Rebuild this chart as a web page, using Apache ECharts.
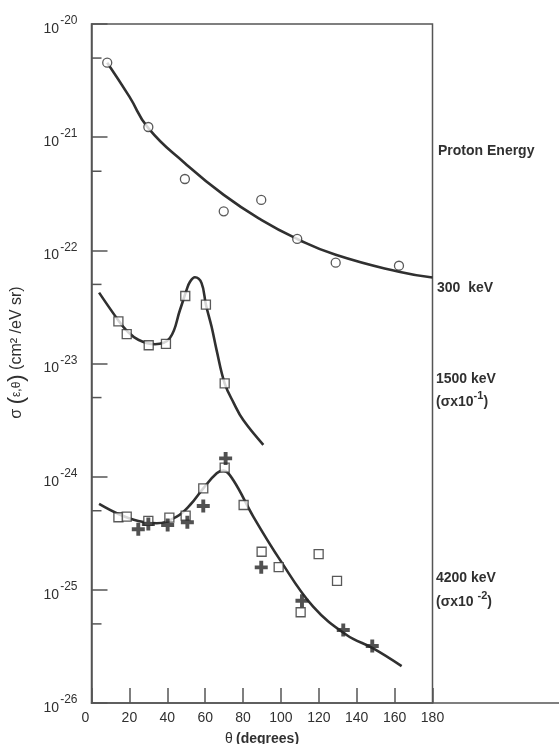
<!DOCTYPE html>
<html>
<head>
<meta charset="utf-8">
<script src="https://cdn.jsdelivr.net/npm/echarts@6/dist/echarts.min.js"></script>
<style>html,body{margin:0;padding:0;background:#fff;}#c{width:559px;height:744px;}</style>
</head>
<body>
<div id="c"></div>
<script>
// ---- Data (angle in degrees, cross section in cm^2/eV sr) ----
const xTicks = [0, 20, 40, 60, 80, 100, 120, 140, 160, 180];
const yDecadeExponents = [-26, -25, -24, -23, -22, -21, -20];
const yMinorTicks = [5e-21, 5e-22, 5e-23, 5e-24, 5e-25, 5e-26];

// 300 keV
const p300Angles = [8.3, 30, 49.3, 69.8, 89.6, 108.6, 128.9, 162.3];
const p300Values = [4.55e-21, 1.23e-21, 4.27e-22, 2.21e-22, 2.79e-22, 1.26e-22, 7.78e-23, 7.31e-23];
const c300Angles = [8.3, 20, 30, 49.3, 69.8, 89.6, 108.6, 128.9, 162.3, 180];
const c300Values = [4.55e-21, 2.28e-21, 1.20e-21, 5.89e-22, 3.09e-22, 1.86e-22, 1.26e-22, 9.12e-23, 6.46e-23, 5.75e-23];

// 1500 keV (sigma x 10^-1)
const p1500Angles = [14.2, 18.6, 30.2, 39.3, 49.5, 60.4, 70.3];
const p1500Values = [2.36e-23, 1.82e-23, 1.45e-23, 1.49e-23, 3.95e-23, 3.31e-23, 6.68e-24];
const c1500Angles = [4.0, 14.2, 18.6, 24.7, 33.5, 41.4, 46.7, 50.2, 52, 54.6, 58.1, 60.4, 63.4, 66, 70.3, 75.1, 80.1, 90.7];
const c1500Values = [4.23e-23, 2.40e-23, 1.95e-23, 1.62e-23, 1.48e-23, 1.68e-23, 2.97e-23, 4.47e-23, 5.28e-23, 5.78e-23, 5.13e-23, 3.31e-23, 2.11e-23, 1.32e-23, 6.68e-24, 4.47e-24, 3.16e-24, 1.91e-24];

// 4200 keV (sigma x 10^-2), squares
const sq4200Angles = [14.2, 18.6, 30, 41.1, 49.7, 59.0, 70.3, 80.3, 89.8, 98.8, 110.4, 119.9, 129.6];
const sq4200Values = [4.38e-25, 4.44e-25, 4.06e-25, 4.35e-25, 4.52e-25, 7.89e-25, 1.20e-24, 5.62e-25, 2.17e-25, 1.59e-25, 6.34e-26, 2.07e-25, 1.20e-25];
// 4200 keV crosses
const cr4200Angles = [24.7, 30, 40.2, 50.6, 59.0, 70.8, 89.6, 111.1, 132.9, 148.2];
const cr4200Values = [3.43e-25, 3.82e-25, 3.74e-25, 3.95e-25, 5.51e-25, 1.45e-24, 1.58e-25, 8.02e-26, 4.42e-26, 3.19e-26];
// 4200 keV curve
const c4200Angles = [4.0, 14.2, 24.7, 34.4, 45, 52, 59, 66.1, 69.6, 74.8, 85.4, 99.5, 117, 134.7, 148.7, 163.7];
const c4200Values = [5.74e-25, 4.68e-25, 4.06e-25, 3.87e-25, 4.44e-25, 5.62e-25, 7.89e-25, 1.07e-24, 1.13e-24, 9.33e-25, 4.44e-25, 1.84e-25, 7.10e-26, 3.99e-26, 3.04e-26, 2.12e-26];

// y is plotted as log10(sigma) on a value axis labelled in powers of ten
const zipLog = (a, b) => a.map((v, i) => [v, Math.log10(b[i])]);

const INK = '#303030';
const AXIS = '#555';
const FONT = 'Liberation Sans, Arial, sans-serif';

const chart = echarts.init(document.getElementById('c'), null, {renderer: 'canvas'});

const curveStyle = {color: INK, width: 2.6};
const openMark = {color: '#fff', borderColor: INK, borderWidth: 1.3};
const plusPath = 'path://M3.5,0H6.5V3.5H10V6.5H6.5V10H3.5V6.5H0V3.5H3.5Z';

const tStyle = (size, extra) => Object.assign({fontSize: size, color: INK, fontFamily: FONT}, extra || {});

const option = {
  animation: false,
  backgroundColor: '#fff',
  grid: {left: 91.5, right: 126.5, top: 24, bottom: 41, show: true, borderColor: AXIS, borderWidth: 1.5,
         containLabel: false, outerBoundsMode: 'none'},
  xAxis: {
    type: 'value', min: 0, max: 180, interval: 20,
    axisLine: {show: true, lineStyle: {color: AXIS, width: 1.5}},
    axisTick: {show: true, inside: true, length: 15, lineStyle: {color: AXIS, width: 1.5}},
    splitLine: {show: false},
    axisLabel: {color: INK, fontSize: 14, fontFamily: FONT, margin: 8,
      formatter: v => v === 0 ? '{z|0}' : (xTicks.includes(v) ? String(v) : ''),
      rich: {z: tStyle(14, {padding: [0, 12, 0, 0]})}},
    name: '{t|θ} {d|(degrees)}', nameLocation: 'middle', nameGap: 29,
    nameTextStyle: {rich: {t: tStyle(14), d: tStyle(14, {fontWeight: 'bold'})}}
  },
  yAxis: {
    type: 'value', min: yDecadeExponents[0], max: yDecadeExponents[yDecadeExponents.length - 1], interval: 1,
    axisLine: {show: true, lineStyle: {color: AXIS, width: 1.5}},
    axisTick: {show: true, inside: true, length: 16, lineStyle: {color: AXIS, width: 1.5}},
    splitLine: {show: false},
    axisLabel: {
      margin: 14,
      formatter: v => '{b|10}{s|' + Math.round(v) + '}',
      rich: {
        b: tStyle(14, {verticalAlign: 'bottom', lineHeight: 24}),
        s: tStyle(12, {verticalAlign: 'top', padding: [3, 0, 0, 1]})
      }
    },
    name: '{a|σ }{p|(}{e|ε,θ}{p|)}{a| (cm² /eV sr)}', nameLocation: 'middle', nameGap: 64, nameRotate: 90,
    nameTextStyle: {
      padding: [0, 0, 0, 22],
      rich: {
        a: tStyle(16),
        p: tStyle(22),
        e: tStyle(12)
      }
    }
  },
  series: [
    {type: 'line', data: zipLog(c300Angles, c300Values), smooth: 0.5, symbol: 'none', lineStyle: curveStyle, z: 2},
    {type: 'line', data: zipLog(c1500Angles, c1500Values), smooth: 0.4, symbol: 'none', lineStyle: curveStyle, z: 2},
    {type: 'line', data: zipLog(c4200Angles, c4200Values), smooth: 0.4, symbol: 'none', lineStyle: curveStyle, z: 2},
    {type: 'scatter', data: zipLog(p300Angles, p300Values), symbol: 'circle', symbolSize: 9, itemStyle: openMark, z: 5},
    {type: 'scatter', data: zipLog(p1500Angles, p1500Values), symbol: 'rect', symbolSize: 9, itemStyle: openMark, z: 5},
    {type: 'scatter', data: zipLog(sq4200Angles, sq4200Values), symbol: 'rect', symbolSize: 9, itemStyle: openMark, z: 5},
    {type: 'scatter', data: zipLog(cr4200Angles, cr4200Values), symbol: plusPath, symbolSize: 13, itemStyle: {color: '#262626'}, z: 6},
    {
      type: 'custom', z: 3, silent: true,
      data: yMinorTicks.map(v => [0, Math.log10(v)]),
      renderItem: (params, api) => {
        const p = api.coord([api.value(0), api.value(1)]);
        return {type: 'line', shape: {x1: p[0], y1: p[1], x2: p[0] + 10, y2: p[1]}, style: {stroke: AXIS, lineWidth: 1.5}};
      }
    }
  ],
  graphic: [
    {type: 'line', shape: {x1: 432.5, y1: 703, x2: 559, y2: 703}, style: {stroke: AXIS, lineWidth: 1.5}},
    {type: 'text', left: 438, top: 144, style: {text: 'Proton Energy', fill: INK, font: 'bold 14px ' + FONT}},
    {type: 'text', left: 437, top: 281, style: {text: '300  keV', fill: INK, font: 'bold 14px ' + FONT}},
    {type: 'text', left: 436, top: 372, style: {text: '1500 keV', fill: INK, font: 'bold 14px ' + FONT}},
    {type: 'text', left: 436, top: 390, style: {
      text: '{a|(σx10}{s|-1}{a|)}',
      rich: {a: {fontSize: 14, fontWeight: 'bold', fill: INK, fontFamily: FONT, verticalAlign: 'bottom', lineHeight: 19},
             s: {fontSize: 11, fontWeight: 'bold', fill: INK, fontFamily: FONT, verticalAlign: 'top', lineHeight: 19}}
    }},
    {type: 'text', left: 436, top: 571, style: {text: '4200 keV', fill: INK, font: 'bold 14px ' + FONT}},
    {type: 'text', left: 436, top: 590, style: {
      text: '{a|(σx10 }{s|-2}{a|)}',
      rich: {a: {fontSize: 14, fontWeight: 'bold', fill: INK, fontFamily: FONT, verticalAlign: 'bottom', lineHeight: 19},
             s: {fontSize: 11, fontWeight: 'bold', fill: INK, fontFamily: FONT, verticalAlign: 'top', lineHeight: 19}}
    }}
  ]
};
chart.setOption(option);
</script>
</body>
</html>
